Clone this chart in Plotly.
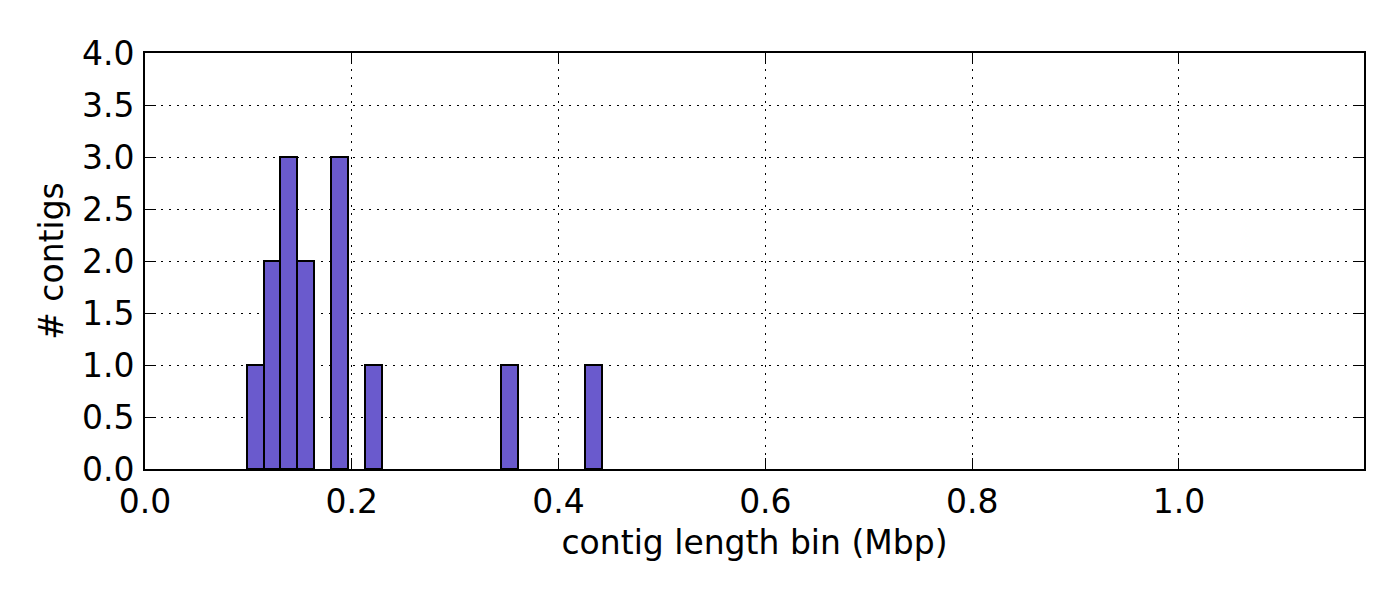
import plotly.graph_objects as go

# Histogram data (contig length bins, Mbp)
bin_width = 0.01638
bin_left_edges = [0.0983, 0.1147, 0.1310, 0.1474, 0.1802, 0.2129, 0.3440, 0.4259]
counts = [1, 2, 3, 2, 3, 1, 1, 1]

x_ticks = [0.0, 0.2, 0.4, 0.6, 0.8, 1.0]
y_ticks = [0.0, 0.5, 1.0, 1.5, 2.0, 2.5, 3.0, 3.5, 4.0]

centers = [e + bin_width / 2 for e in bin_left_edges]

fig = go.Figure()
fig.add_trace(go.Bar(
    x=centers, y=counts, width=bin_width,
    marker=dict(color="#6A5ACD", line=dict(color="black", width=2)),
))

font = dict(family="DejaVu Sans", size=33, color="black")
axis_common = dict(
    showline=True, linecolor="black", linewidth=2, mirror="ticks",
    ticks="inside", ticklen=11, tickwidth=1, tickcolor="black",
    showgrid=True, gridcolor="black", gridwidth=1, griddash="2px,6px",
    zeroline=False, tickfont=font,
)
fig.update_xaxes(range=[0, 1.179], tickvals=x_ticks,
                 ticktext=[f"{v:.1f}" for v in x_ticks],
                 ticklabelstandoff=2,
                 title=dict(text="contig length bin (Mbp)", font=font, standoff=11),
                 **axis_common)
fig.update_yaxes(range=[0, 4.0], tickvals=y_ticks,
                 ticktext=[f"{v:.1f}" for v in y_ticks],
                 ticklabelstandoff=2,
                 title=dict(text="# contigs", font=font, standoff=8),
                 **axis_common)
fig.update_layout(
    width=1400, height=600,
    margin=dict(l=137, r=44, t=45, b=139, autoexpand=False),
    plot_bgcolor="white", paper_bgcolor="white",
    showlegend=False, bargap=0, font=font,
)
fig.write_html("out.html")
